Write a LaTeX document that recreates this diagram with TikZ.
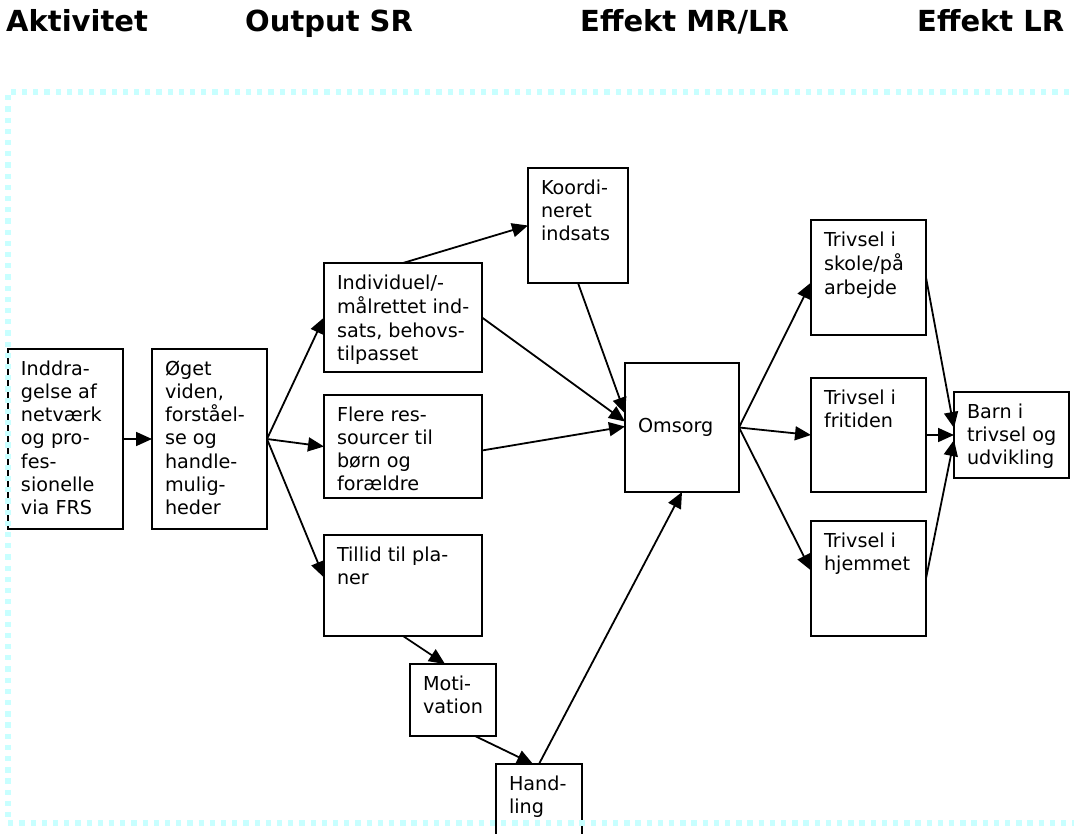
\documentclass[tikz,border=0pt]{standalone}
\usepackage{fontspec}
\setmainfont{DejaVu Sans}
\usetikzlibrary{arrows.meta}

\definecolor{framecyan}{RGB}{200,255,255}

% body text of the boxes
\newcommand\bodyfont{\fontsize{19.2pt}{23.3pt}\selectfont}
% top-aligned box contents: width, height, lines
\newcommand\toptext[3]{\parbox[c][#2][t]{#1}{\raggedright\leftskip=13pt\relax\vspace*{9.7pt}\strut#3}}
% vertically centred box contents
\newcommand\midtext[3]{\parbox[c][#2][c]{#1}{\raggedright\leftskip=13pt\relax #3}}

\tikzset{
  flowbox/.style={draw, line width=2pt, inner sep=0pt, outer sep=0pt,
    anchor=north west, fill=white, font=\bodyfont},
  heading/.style={anchor=base west, inner sep=0pt,
    font=\fontsize{29pt}{34pt}\selectfont\bfseries},
  link/.style={line width=1.8pt, -{Triangle[length=16pt,width=14pt]}},
  frameline/.style={draw=framecyan, line width=5.3pt,
    dash pattern=on 5.3pt off 5.9pt}
}

\begin{document}
\begin{tikzpicture}[x=1pt, y=-1pt]
\useasboundingbox (0,0) rectangle (1074,834);
\clip (0,0) rectangle (1074,834);

% column headings
\node[heading] (h1) at (6,32)   {Aktivitet};
\node[heading] (h2) at (245,32) {Output SR};
\node[heading] (h3) at (580,32) {Effekt MR/LR};
\node[heading] (h4) at (917,32) {Effekt LR};

% boxes
\node[flowbox] (ind)    at (8,349)   {\toptext{115pt}{180pt}{Inddra-\\gelse af\\netværk\\og pro-\\fes-\\sionelle\\via FRS}};
\node[flowbox] (oget)   at (152,349) {\toptext{115pt}{180pt}{Øget\\viden,\\forståel-\\se og\\handle-\\mulig-\\heder}};
\node[flowbox] (indiv)  at (324,263) {\toptext{158pt}{109pt}{Individuel/-\\målrettet ind-\\sats, behovs-\\tilpasset}};
\node[flowbox] (koord)  at (528,168) {\toptext{100pt}{115pt}{Koordi-\\neret\\indsats}};
\node[flowbox] (flere)  at (324,395) {\toptext{158pt}{103pt}{Flere res-\\sourcer til\\børn og\\forældre}};
\node[flowbox] (tillid) at (324,535) {\toptext{158pt}{101pt}{Tillid til pla-\\ner}};
\node[flowbox] (motiv)  at (410,664) {\toptext{86pt}{72pt}{Moti-\\vation}};
\node[flowbox] (handl)  at (496,764) {\toptext{86pt}{110pt}{Hand-\\ling}};
\node[flowbox] (omsorg) at (625,363) {\midtext{114pt}{129pt}{Omsorg}};
\node[flowbox] (skole)  at (811,220) {\toptext{115pt}{115pt}{Trivsel i\\skole/på\\arbejde}};
\node[flowbox] (fritid) at (811,378) {\toptext{115pt}{114pt}{Trivsel i\\fritiden}};
\node[flowbox] (hjem)   at (811,521) {\toptext{115pt}{115pt}{Trivsel i\\hjemmet}};
\node[flowbox] (barn)   at (954,392) {\toptext{115pt}{86pt}{Barn i\\trivsel og\\udvikling}};

% connectors
\draw[link] (ind.east) -- (oget.west);
\draw[link] (oget.east) -- (indiv.west);
\draw[link] (oget.east) -- (flere.west);
\draw[link] (oget.east) -- ([yshift=8pt]tillid.west);
\draw[link] (indiv.north) -- (koord.west);
\draw[link] (indiv.east) -- ([yshift=6pt]omsorg.west);
\draw[link] (koord.south) -- ([yshift=14pt]omsorg.west);
\draw[link] ([yshift=-4pt]flere.east) -- ([yshift=1pt]omsorg.west);
\draw[link] (tillid.south) -- ([xshift=-8pt]motiv.north);
\draw[link] ([xshift=22pt]motiv.south) -- ([xshift=-6pt]handl.north);
\draw[link] (handl.north) -- (omsorg.south);
\draw[link] (omsorg.east) -- ([yshift=-5pt]skole.west);
\draw[link] (omsorg.east) -- (fritid.west);
\draw[link] (omsorg.east) -- ([yshift=8pt]hjem.west);
\draw[link] (skole.east) -- ([yshift=7pt]barn.west);
\draw[link] (fritid.east) -- (barn.west);
\draw[link] (hjem.east) -- ([yshift=-5pt]barn.west);

% dotted frame round the chart
\coordinate (ftl) at (8,92);
\coordinate (fbl) at (8,823);
\coordinate (ftr) at (1080,92);
\coordinate (fbr) at (1080,823);
\draw[frameline] (ftr) -- (ftl) -- (fbl) -- (fbr);
\end{tikzpicture}
\end{document}
